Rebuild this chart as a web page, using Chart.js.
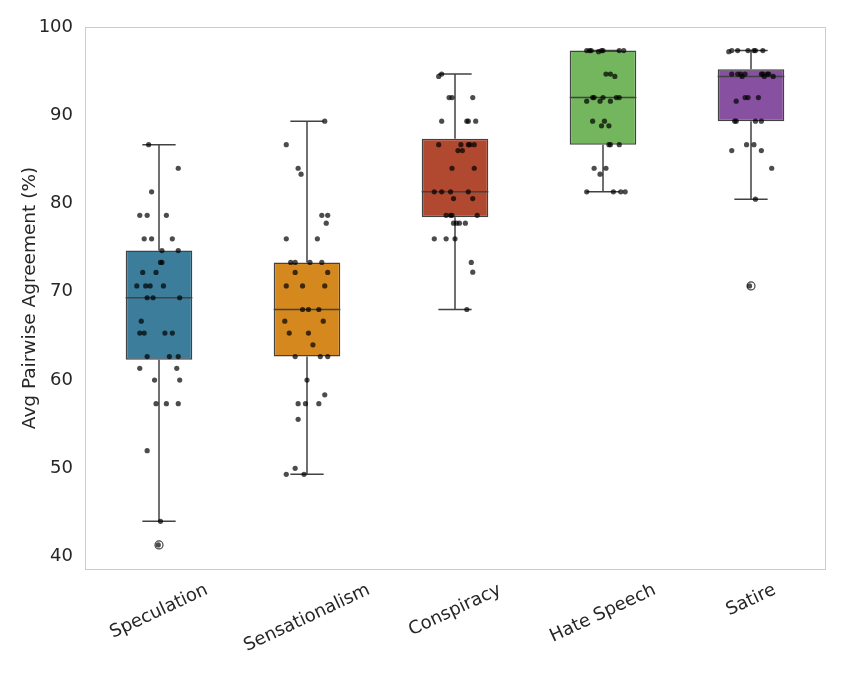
<!DOCTYPE html>
<html>
<head>
<meta charset="utf-8">
<script src="https://cdn.jsdelivr.net/npm/chart.js@4.4.1/dist/chart.umd.min.js"></script>
<style>
  html, body { margin: 0; padding: 0; background: #fff; }
</style>
</head>
<body>
<canvas id="myChart" width="847" height="678"></canvas>
<script>
var categories = ["Speculation", "Sensationalism", "Conspiracy", "Hate Speech", "Satire"];
var boxColors = ["#3b7d9b", "#d4881e", "#b0492f", "#73b65d", "#8850a0"];

// box statistics
var q1 = [62.3, 62.67, 78.45, 86.67, 89.33];
var medians = [69.33, 68.0, 81.33, 92.0, 94.4];
var q3 = [74.67, 73.33, 87.33, 97.33, 95.2];
var whiskerLow = [44.0, 49.33, 68.0, 81.33, 80.5];
var whiskerHigh = [86.67, 89.33, 94.67, 97.33, 97.33];
var outliers = [[41.33], [], [], [], [70.67]];
var yTicks = [40, 50, 60, 70, 80, 90, 100];

// individual points (values) and their horizontal jitter (fraction of a category)
var specValues = [86.67, 84.0, 81.33, 78.67, 78.67, 78.67, 76.0, 76.0, 76.0, 74.67, 74.67, 73.33, 73.33, 72.2, 72.2,
  70.67, 70.67, 70.67, 70.67, 69.33, 69.33, 69.33, 66.67, 65.33, 65.33, 65.33, 65.33, 62.67, 62.67, 62.67,
  61.33, 61.33, 60.0, 60.0, 57.33, 57.33, 57.33, 52.0, 44.0, 41.33];
var specJitter = [-0.07, 0.13, -0.05, -0.13, -0.08, 0.05, -0.10, -0.05, 0.09, 0.02, 0.13, 0.01, 0.02, -0.11, -0.02,
  -0.15, -0.09, -0.06, 0.03, -0.08, -0.04, 0.14, -0.12, -0.13, -0.10, 0.04, 0.09, -0.08, 0.07, 0.13,
  -0.13, 0.12, -0.03, 0.14, -0.02, 0.05, 0.13, -0.08, 0.01, -0.005];

var sensValues = [89.33, 86.67, 84.0, 83.33, 78.67, 78.67, 77.78, 76.0, 76.0, 73.33, 73.33, 73.33, 73.33, 72.2, 72.2,
  70.67, 70.67, 70.67, 68.0, 68.0, 68.0, 66.67, 66.67, 65.33, 65.33, 64.0, 62.67, 62.67, 62.67,
  60.0, 58.33, 57.33, 57.33, 57.33, 55.56, 50.0, 49.33, 49.33];
var sensJitter = [0.12, -0.14, -0.06, -0.04, 0.10, 0.14, 0.13, -0.14, 0.07, -0.11, -0.08, 0.02, 0.10, -0.08, 0.14,
  -0.14, -0.03, 0.12, -0.03, 0.01, 0.08, -0.15, 0.11, -0.12, 0.01, 0.04, -0.08, 0.09, 0.14,
  0.0, 0.12, -0.06, -0.01, 0.08, -0.06, -0.08, -0.14, -0.02];

var consValues = [94.67, 94.4, 92.0, 92.0, 92.0, 89.33, 89.33, 89.33, 89.33, 86.67, 86.67, 86.67, 86.67, 86.67,
  86.0, 86.0, 84.0, 84.0, 81.33, 81.33, 81.33, 81.33, 80.56, 80.56, 78.67, 78.67, 78.67, 78.67,
  77.78, 77.78, 77.78, 77.78, 76.0, 76.0, 76.0, 73.33, 72.22, 68.0];
var consJitter = [-0.09, -0.11, -0.04, -0.02, 0.12, -0.09, 0.08, 0.09, 0.14, -0.11, 0.04, 0.09, 0.10, 0.13,
  0.02, 0.05, -0.02, 0.13, -0.14, -0.09, -0.03, 0.09, -0.01, 0.12, -0.06, -0.03, -0.02, 0.15,
  -0.01, 0.01, 0.03, 0.07, -0.14, -0.06, 0.0, 0.11, 0.12, 0.08];

var hateValues = [97.33, 97.33, 97.33, 97.2, 97.33, 97.33, 97.33, 97.33, 94.67, 94.67, 94.4,
  92.0, 92.0, 92.0, 92.0, 92.0, 91.6, 91.6, 91.6, 89.33, 89.33, 88.8, 88.8,
  86.67, 86.67, 86.67, 84.0, 84.0, 83.33, 81.33, 81.33, 81.33, 81.33];
var hateJitter = [-0.11, -0.09, -0.08, -0.03, -0.01, 0.0, 0.11, 0.14, 0.02, 0.05, 0.08,
  -0.07, -0.06, 0.0, 0.09, 0.11, -0.11, -0.02, 0.05, -0.07, 0.01, -0.01, 0.04,
  0.04, 0.05, 0.11, -0.06, 0.02, -0.02, -0.11, 0.07, 0.12, 0.15];

var satValues = [97.2, 97.33, 97.33, 97.33, 97.33, 97.33, 97.33, 94.67, 94.67, 94.67, 94.67, 94.67, 94.67, 94.67, 94.67,
  94.4, 94.4, 94.4, 92.0, 92.0, 92.0, 91.6, 89.33, 89.33, 89.33, 89.33, 86.67, 86.67, 86.0, 86.0,
  84.0, 80.5, 70.67];
var satJitter = [-0.15, -0.13, -0.09, -0.02, 0.02, 0.03, 0.08, -0.13, -0.09, -0.07, -0.04, 0.07, 0.08, 0.11, 0.12,
  -0.06, 0.09, 0.15, -0.04, -0.02, 0.05, -0.10, -0.11, -0.10, 0.03, 0.07, -0.03, 0.02, -0.13, 0.07,
  0.14, 0.03, -0.01];

var pointValues = [specValues, sensValues, consValues, hateValues, satValues];
var pointJitter = [specJitter, sensJitter, consJitter, hateJitter, satJitter];

var FONT = "'DejaVu Sans', 'Liberation Sans', sans-serif";
var LINE = "#424242";

var stripData = [];
pointValues.forEach(function (vals, i) {
  vals.forEach(function (v, j) {
    stripData.push({ x: i + pointJitter[i][j], y: v });
  });
});
var flierData = [];
outliers.forEach(function (vals, i) {
  vals.forEach(function (v) { flierData.push({ x: i, y: v }); });
});

var boxParts = {
  id: "boxParts",
  beforeDatasetsDraw: function (chart) {
    var a = chart.chartArea, ctx = chart.ctx;
    ctx.save();
    ctx.strokeStyle = "#cccccc";
    ctx.lineWidth = 1;
    ctx.strokeRect(Math.round(a.left) + 0.5, Math.round(a.top) + 0.5,
      Math.round(a.right - a.left), Math.round(a.bottom - a.top));
    ctx.restore();
  },
  afterDatasetDraw: function (chart, args) {
    if (args.index !== 0) return;
    var ctx = chart.ctx, y = chart.scales.y;
    var meta = chart.getDatasetMeta(0);
    ctx.save();
    ctx.strokeStyle = LINE;
    ctx.lineWidth = 1.5;
    meta.data.forEach(function (bar, i) {
      var p = bar.getProps(["x", "width"], true);
      var cx = p.x, half = p.width / 2;
      ctx.beginPath();
      // median
      ctx.moveTo(cx - half, y.getPixelForValue(medians[i]));
      ctx.lineTo(cx + half, y.getPixelForValue(medians[i]));
      // whiskers
      ctx.moveTo(cx, y.getPixelForValue(q3[i]));
      ctx.lineTo(cx, y.getPixelForValue(whiskerHigh[i]));
      ctx.moveTo(cx, y.getPixelForValue(q1[i]));
      ctx.lineTo(cx, y.getPixelForValue(whiskerLow[i]));
      // caps
      ctx.moveTo(cx - half / 2, y.getPixelForValue(whiskerHigh[i]));
      ctx.lineTo(cx + half / 2, y.getPixelForValue(whiskerHigh[i]));
      ctx.moveTo(cx - half / 2, y.getPixelForValue(whiskerLow[i]));
      ctx.lineTo(cx + half / 2, y.getPixelForValue(whiskerLow[i]));
      ctx.stroke();
    });
    ctx.restore();
  },
  afterDraw: function (chart) {
    var ctx = chart.ctx, a = chart.chartArea, xs = chart.scales.x;
    var ang = 25 * Math.PI / 180;
    ctx.save();
    ctx.fillStyle = "#262626";
    ctx.font = "18px " + FONT;
    ctx.textAlign = "center";
    ctx.textBaseline = "middle";
    categories.forEach(function (c, i) {
      var w = ctx.measureText(c).width;
      var h = w * Math.sin(ang) + 18 * Math.cos(ang);
      ctx.save();
      ctx.translate(xs.getPixelForValue(i), a.bottom + 12 + h / 2);
      ctx.rotate(-ang);
      ctx.fillText(c, 0, 0);
      ctx.restore();
    });
    ctx.font = "18.5px " + FONT;
    ctx.translate(30, (a.top + a.bottom) / 2);
    ctx.rotate(-Math.PI / 2);
    ctx.fillText("Avg Pairwise Agreement (%)", 0, 0);
    ctx.restore();
  }
};

new Chart("myChart", {
  type: "bar",
  data: {
    labels: categories,
    datasets: [{
      type: "bar",
      data: categories.map(function (c, i) { return [q1[i], q3[i]]; }),
      backgroundColor: boxColors,
      borderColor: LINE,
      borderWidth: 1.5,
      borderSkipped: false,
      grouped: false,
      barPercentage: 0.45,
      categoryPercentage: 1,
      xAxisID: "x",
      order: 3
    }, {
      type: "scatter",
      data: flierData,
      xAxisID: "xs",
      pointRadius: 4,
      pointBackgroundColor: "rgba(0,0,0,0)",
      pointBorderColor: LINE,
      pointBorderWidth: 1.2,
      order: 2
    }, {
      type: "scatter",
      data: stripData,
      xAxisID: "xs",
      pointRadius: 2.6,
      pointBackgroundColor: "rgba(0,0,0,0.7)",
      pointBorderWidth: 0,
      order: 1
    }]
  },
  options: {
    responsive: false,
    animation: false,
    events: [],
    layout: { padding: { left: 0, right: 22, top: 27, bottom: 0 } },
    plugins: { legend: { display: false }, tooltip: { enabled: false } },
    scales: {
      x: {
        type: "category",
        offset: true,
        grid: { display: false },
        border: { display: false },
        ticks: { display: false },
        afterFit: function (s) { s.height = 109; }
      },
      xs: { type: "linear", display: false, offset: false, min: -0.5, max: 4.5 },
      y: {
        min: 38.6,
        max: 100,
        grid: { display: false },
        border: { display: false },
        ticks: { padding: 4, color: "#262626", font: { family: FONT, size: 18 } },
        afterBuildTicks: function (s) { s.ticks = yTicks.map(function (v) { return { value: v }; }); },
        afterFit: function (s) { s.width = 85; }
      }
    }
  },
  plugins: [boxParts]
});
</script>
</body>
</html>
